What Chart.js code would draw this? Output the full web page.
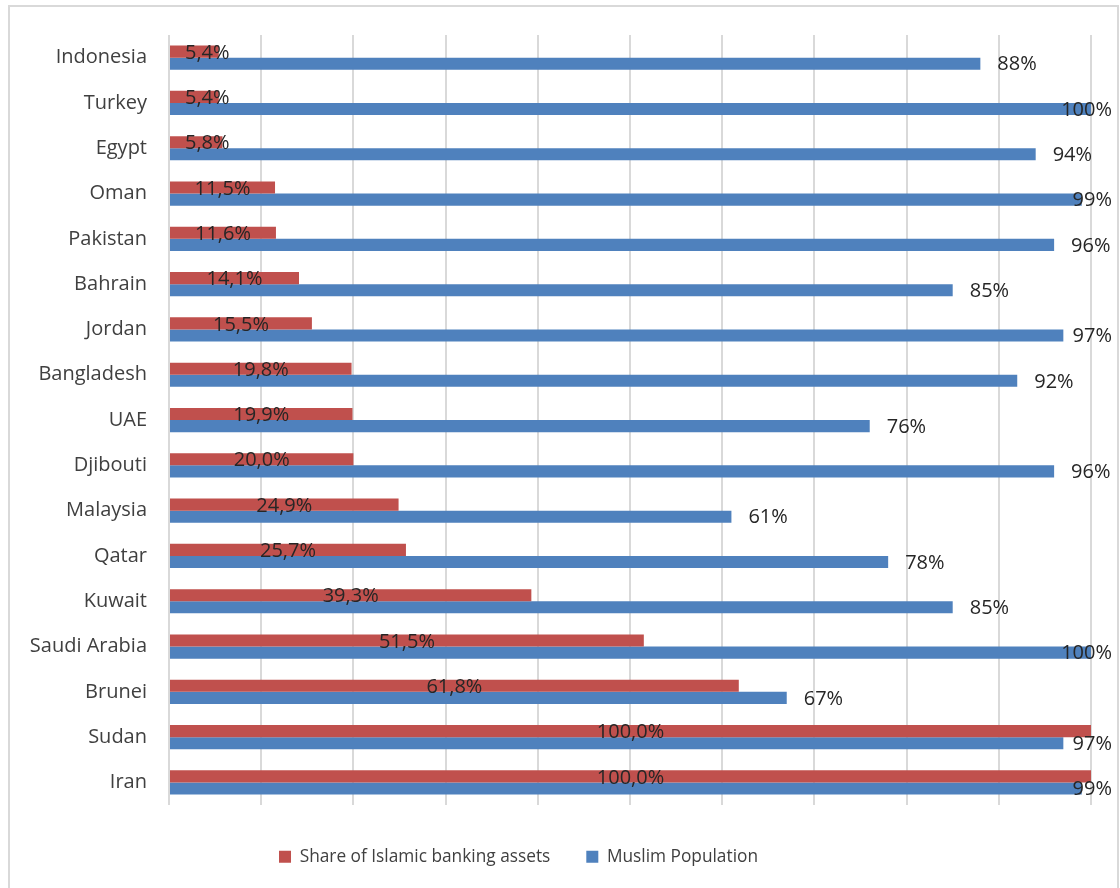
<!DOCTYPE html>
<html>
<head>
<meta charset="utf-8">
<script src="https://cdn.jsdelivr.net/npm/chart.js@4.4.1/dist/chart.umd.min.js"></script>
<style>
  html, body { margin: 0; padding: 0; background: #ffffff; }
  #wrap { position: relative; width: 1120px; height: 888px; }
  canvas { display: block; }
</style>
</head>
<body>
<div id="wrap"><canvas id="c" width="1120" height="888"></canvas></div>
<script>
const countries = ["Indonesia", "Turkey", "Egypt", "Oman", "Pakistan", "Bahrain", "Jordan", "Bangladesh", "UAE", "Djibouti", "Malaysia", "Qatar", "Kuwait", "Saudi Arabia", "Brunei", "Sudan", "Iran"];
const islamicBankingShare = [5.4, 5.4, 5.8, 11.5, 11.6, 14.1, 15.5, 19.8, 19.9, 20.0, 24.9, 25.7, 39.3, 51.5, 61.8, 100.0, 100.0];
const muslimPopulation = [88, 100, 94, 99, 96, 85, 97, 92, 76, 96, 61, 78, 85, 100, 67, 97, 99];
const seriesNames = ["Share of Islamic banking assets", "Muslim Population"];

const FONT = "'Open Sans', 'Noto Sans', sans-serif";
const AXIS_SIZE = 20;
const LABEL_SIZE = 20;
const LEGEND_SIZE = 17.3;

const frame = {
  id: 'frame',
  beforeDraw(chart) {
    const ctx = chart.ctx;
    ctx.save();
    ctx.fillStyle = '#ffffff';
    ctx.fillRect(0, 0, chart.width, chart.height);
    ctx.strokeStyle = '#d9d9d9';
    ctx.lineWidth = 2;
    ctx.strokeRect(9, 6, 1109, 900);
    ctx.restore();
  }
};

const legendShift = {
  id: 'legendShift',
  afterLayout(chart) {
    const lg = chart.legend;
    if (lg) {
      lg.left -= 27; lg.right -= 27;
      lg.top += 7; lg.bottom += 7;
    }
  }
};

const valueLabels = {
  id: 'valueLabels',
  afterDatasetsDraw(chart) {
    const ctx = chart.ctx;
    ctx.save();
    ctx.font = LABEL_SIZE + 'px ' + FONT;
    ctx.fillStyle = '#262626';
    ctx.textBaseline = 'middle';
    const redMeta = chart.getDatasetMeta(0);
    redMeta.data.forEach((bar, i) => {
      const txt = islamicBankingShare[i].toFixed(1).replace('.', ',') + '%';
      const w = ctx.measureText(txt).width;
      const cx = Math.max((bar.base + bar.x) / 2, 185 + w / 2);
      ctx.textAlign = 'center';
      ctx.fillText(txt, cx, bar.y + 1.5);
    });
    const blueMeta = chart.getDatasetMeta(1);
    blueMeta.data.forEach((bar, i) => {
      const txt = muslimPopulation[i] + '%';
      const w = ctx.measureText(txt).width;
      let left = bar.x + 17;
      if (left + w > 1112) left = 1112 - w;
      ctx.textAlign = 'left';
      ctx.fillText(txt, left, bar.y + 1);
    });
    ctx.restore();
  }
};

new Chart(document.getElementById('c'), {
  type: 'bar',
  data: {
    labels: countries,
    datasets: [
      { label: seriesNames[0], data: islamicBankingShare, backgroundColor: '#c0504d', borderWidth: 0 },
      { label: seriesNames[1], data: muslimPopulation, backgroundColor: '#4f81bd', borderWidth: 0 }
    ]
  },
  options: {
    indexAxis: 'y',
    responsive: false,
    animation: false,
    devicePixelRatio: 1,
    datasets: { bar: { categoryPercentage: 0.535, barPercentage: 1.0 } },
    layout: { padding: { top: 35, right: 29, left: 0, bottom: 19.6 } },
    scales: {
      x: {
        min: 0, max: 100,
        ticks: { display: false, stepSize: 10 },
        grid: { color: '#d9d9d9', lineWidth: 2, drawTicks: false },
        border: { display: false },
        afterFit(scale) { scale.height = 0; }
      },
      y: {
        ticks: { color: '#404040', font: { family: FONT, size: AXIS_SIZE }, padding: 22 },
        grid: { display: false, drawTicks: false },
        border: { display: false },
        afterFit(scale) { scale.width = 169; }
      }
    },
    plugins: {
      legend: {
        position: 'bottom',
        labels: {
          color: '#404040',
          font: { family: FONT, size: LEGEND_SIZE },
          boxWidth: 12, boxHeight: 12,
          padding: 36,
          generateLabels(chart) {
            return chart.data.datasets.map((d, i) => ({
              text: d.label, fillStyle: d.backgroundColor, strokeStyle: d.backgroundColor,
              lineWidth: 0, hidden: false, datasetIndex: i, fontColor: '#404040'
            }));
          }
        }
      },
      tooltip: { enabled: false }
    }
  },
  plugins: [frame, legendShift, valueLabels]
});
</script>
</body>
</html>
